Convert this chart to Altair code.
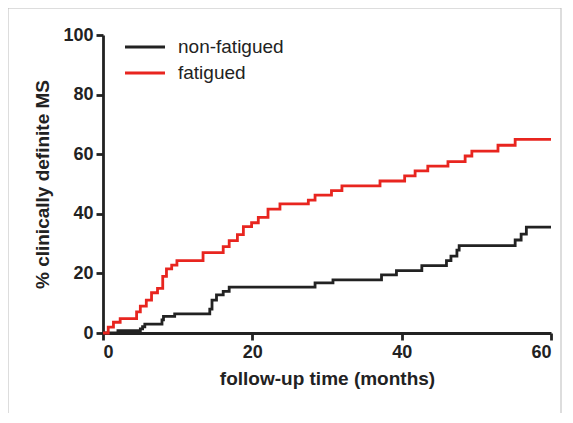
import altair as alt
import pandas as pd

# fatigued group (red) - step times in months, cumulative %
fat_t = [0, 0.7, 1.4, 2.3, 4.5, 5.0, 5.8, 6.5, 7.3, 8.0, 8.5, 9.2, 9.9, 13.4, 16.1, 16.9, 18.0,
         18.8, 19.9, 20.8, 22.1, 23.7, 27.5, 28.4, 30.6, 32.0, 37.1, 40.4, 41.8, 43.5, 46.2,
         48.5, 49.4, 52.9, 55.2, 60]
fat_y = [0, 2, 3.6, 4.8, 7.1, 9, 11, 13.5, 15, 19, 21.5, 22.8, 24.3, 27, 29, 31, 33,
         35.7, 37, 38.8, 41.6, 43.3, 44.6, 46.3, 47.8, 49.4, 51, 52.7, 54.4, 56, 57.5,
         59.4, 61, 63, 65, 65]

# non-fatigued group (black)
non_t = [0, 2.0, 5.0, 5.3, 5.6, 7.9, 8.1, 9.6, 14.3, 14.6, 15.2, 16.1, 16.9, 17.7, 28.4,
         30.8, 37.3, 39.3, 42.7, 46.0, 46.6, 47.4, 47.7, 55.2, 56.0, 56.7, 60]
non_y = [0, 0.8, 1.4, 2.1, 3, 4.4, 5.6, 6.4, 8, 11, 12.8, 14, 15.4, 15.4, 16.8,
         17.8, 19.5, 20.9, 22.6, 24.3, 25.8, 27.8, 29.3, 31.2, 33.2, 35.5, 35.5]

df = pd.concat([
    pd.DataFrame({"t": non_t, "y": non_y, "group": "non-fatigued"}),
    pd.DataFrame({"t": fat_t, "y": fat_y, "group": "fatigued"}),
])

W, H = 448, 298
font = "Liberation Sans"

lines = alt.Chart(df).mark_line(interpolate="step-after", strokeWidth=2.8, clip=False).encode(
    x=alt.X("t:Q", scale=alt.Scale(domain=[0, 60], nice=False),
            axis=alt.Axis(values=[0, 20, 40, 60], title="follow-up time (months)")),
    y=alt.Y("y:Q", scale=alt.Scale(domain=[0, 100], nice=False),
            axis=alt.Axis(values=[0, 20, 40, 60, 80, 100], title="% clinically definite MS")),
    color=alt.Color("group:N", scale=alt.Scale(domain=["non-fatigued", "fatigued"],
                                               range=["#222222", "#e8251f"]), legend=None),
    detail="group:N",
)

leg_black = alt.Chart().mark_rule(color="#222222", strokeWidth=2.8).encode(
    x=alt.value(22), x2=alt.value(62), y=alt.value(12))
leg_red = alt.Chart().mark_rule(color="#e8251f", strokeWidth=2.8).encode(
    x=alt.value(22), x2=alt.value(62), y=alt.value(38))
txt_black = alt.Chart().mark_text(text="non-fatigued", align="left", baseline="middle",
                                  fontSize=19, font=font, color="#222222").encode(
    x=alt.value(75), y=alt.value(12))
txt_red = alt.Chart().mark_text(text="fatigued", align="left", baseline="middle",
                                fontSize=19, font=font, color="#222222").encode(
    x=alt.value(75), y=alt.value(38))
frame = alt.Chart().mark_rect(filled=False, stroke="#bbbbbb", strokeWidth=1, clip=False).encode(
    x=alt.value(-95), x2=alt.value(W + 10), y=alt.value(-27), y2=alt.value(H + 85))

chart = alt.layer(frame, lines, leg_black, leg_red, txt_black, txt_red).properties(
    width=W, height=H,
    autosize=alt.AutoSizeParams(type="none"),
    padding={"left": 95, "top": 27, "right": 12, "bottom": 80},
).configure_view(stroke=None).configure_axis(
    domainColor="#222222", domainWidth=2.8, tickColor="#222222", tickWidth=2.8, tickSize=7,
    labelFont=font, labelFontSize=18, labelFontWeight="bold", labelColor="#222222",
    titleFont=font, titleFontSize=19, titleFontWeight="bold", titleColor="#222222",
    grid=False, labelPadding=3,
).configure_axisY(titlePadding=10).configure_axisX(titlePadding=8)

chart.save("out.html", embed_options={"renderer": "svg", "actions": False})
